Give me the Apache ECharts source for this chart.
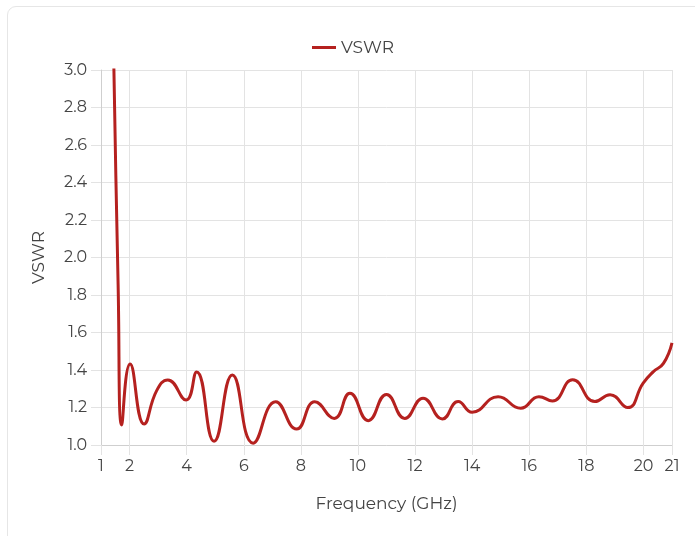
<!DOCTYPE html>
<html>
<head>
<meta charset="utf-8">
<script src="https://cdn.jsdelivr.net/npm/echarts@6/dist/echarts.min.js"></script>
<style>
  html, body { margin: 0; padding: 0; background: #fff; }
  #card { position: absolute; left: 7px; top: 6px; width: 720px; height: 560px; border: 1px solid #e6e6e6; border-radius: 9px; box-sizing: border-box; }
  #chart { position: absolute; left: 0; top: 0; width: 695px; height: 536px; }
</style>
</head>
<body>
<div id="card"></div>
<div id="chart"></div>
<script>
const seriesName = 'VSWR';
const freqGHz = [1.0, 1.45, 1.6, 1.725, 2.02, 2.51, 2.95, 3.34, 3.98, 4.35, 4.96, 5.6, 6.33, 7.12, 7.85, 8.49, 9.17, 9.72, 10.36, 11.0, 11.64, 12.28, 12.96, 13.51, 14.0, 14.91, 15.7, 16.34, 16.81, 17.52, 18.3, 18.83, 19.45, 19.99, 20.34, 20.7, 21.0];
const vswr = [6.8, 3.02, 1.85, 1.107, 1.432, 1.112, 1.29, 1.347, 1.24, 1.39, 1.02, 1.373, 1.01, 1.231, 1.085, 1.231, 1.142, 1.276, 1.13, 1.27, 1.142, 1.25, 1.139, 1.232, 1.175, 1.258, 1.196, 1.258, 1.235, 1.348, 1.232, 1.268, 1.2, 1.33, 1.39, 1.435, 1.545];

const chart = echarts.init(document.getElementById('chart'), null, { renderer: 'canvas' });
const font = 'Montserrat, "Noto Sans", sans-serif';
const gridColor = '#e3e3e3';
chart.setOption({
  animation: false,
  backgroundColor: 'transparent',
  textStyle: { fontFamily: font },
  legend: {
    top: 34, left: 307,
    itemWidth: 24, itemHeight: 3, itemGap: 6,
    icon: 'rect',
    textStyle: { fontFamily: font, fontSize: 17, color: '#444' },
    data: [seriesName]
  },
  grid: { left: 101, right: 23, top: 70, bottom: 91, containLabel: false },
  xAxis: {
    type: 'value', min: 1, max: 21, splitNumber: 10,
    name: 'Frequency (GHz)', nameLocation: 'middle', nameGap: 50,
    nameTextStyle: { fontFamily: font, fontSize: 17, color: '#444' },
    axisLine: { show: true, lineStyle: { color: '#cfcfcf', width: 1 } },
    axisTick: { show: true, length: 10, lineStyle: { color: gridColor } },
    axisLabel: { fontFamily: font, fontSize: 16, color: '#444', margin: 13 },
    splitLine: { show: true, lineStyle: { color: gridColor } }
  },
  yAxis: {
    type: 'value', min: 1.0, max: 3.0, interval: 0.2,
    name: 'VSWR', nameLocation: 'middle', nameGap: 54,
    nameTextStyle: { fontFamily: font, fontSize: 17, color: '#444' },
    axisLine: { show: true, lineStyle: { color: '#cfcfcf', width: 1 } },
    axisTick: { show: true, length: 10, lineStyle: { color: gridColor } },
    axisLabel: { fontFamily: font, fontSize: 16, color: '#444', margin: 14, formatter: v => v.toFixed(1) },
    splitLine: { show: true, lineStyle: { color: gridColor } }
  },
  series: [{
    name: seriesName,
    type: 'line',
    data: freqGHz.map((f, i) => [f, vswr[i]]),
    smooth: 0.5,
    showSymbol: false,
    clip: true,
    lineStyle: { color: '#b5211f', width: 3 },
    itemStyle: { color: '#b5211f' }
  }]
});
</script>
</body>
</html>
